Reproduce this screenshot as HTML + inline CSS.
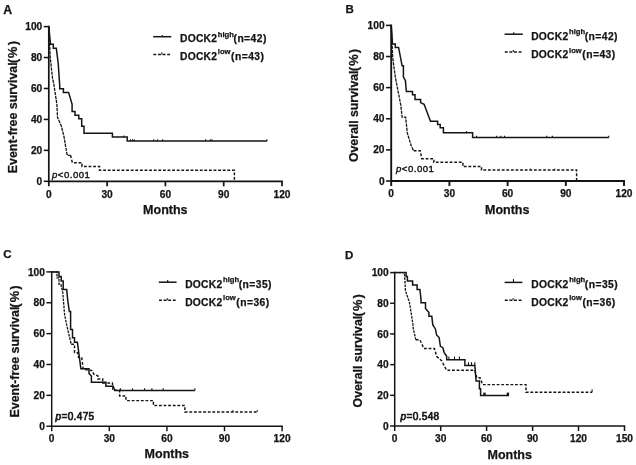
<!DOCTYPE html>
<html><head><meta charset="utf-8"><title>DOCK2 survival curves</title>
<style>
html,body{margin:0;padding:0;background:#fff;}
body{width:636px;height:465px;overflow:hidden;font-family:"Liberation Sans",sans-serif;}
svg{display:block;will-change:transform;}
svg text{font-family:"Liberation Sans",sans-serif;fill:#141414;}
.b{font-weight:bold;stroke:#141414;stroke-width:0.25px;}
.r{font-weight:normal}
</style></head><body>
<svg width="636" height="465" viewBox="0 0 636 465">
<rect width="636" height="465" fill="#ffffff"/>
<text x="3.3" y="13.9" class="b" font-size="12.3">A</text>
<path d="M48.8,26.6 V181.3 H282" fill="none" stroke="#141414" stroke-width="1.7" stroke-linecap="square"/>
<line x1="43.75" y1="181.30" x2="48.8" y2="181.30" stroke="#141414" stroke-width="1.55"/>
<text x="42.25" y="184.90" class="b" font-size="10.2" text-anchor="end">0</text>
<line x1="43.75" y1="150.36" x2="48.8" y2="150.36" stroke="#141414" stroke-width="1.55"/>
<text x="42.25" y="153.96" class="b" font-size="10.2" text-anchor="end">20</text>
<line x1="43.75" y1="119.42" x2="48.8" y2="119.42" stroke="#141414" stroke-width="1.55"/>
<text x="42.25" y="123.02" class="b" font-size="10.2" text-anchor="end">40</text>
<line x1="43.75" y1="88.48" x2="48.8" y2="88.48" stroke="#141414" stroke-width="1.55"/>
<text x="42.25" y="92.08" class="b" font-size="10.2" text-anchor="end">60</text>
<line x1="43.75" y1="57.54" x2="48.8" y2="57.54" stroke="#141414" stroke-width="1.55"/>
<text x="42.25" y="61.14" class="b" font-size="10.2" text-anchor="end">80</text>
<line x1="43.75" y1="26.60" x2="48.8" y2="26.60" stroke="#141414" stroke-width="1.55"/>
<text x="42.25" y="30.20" class="b" font-size="10.2" text-anchor="end">100</text>
<line x1="48.80" y1="181.3" x2="48.80" y2="186.3" stroke="#141414" stroke-width="1.7"/>
<text x="48.80" y="197.5" class="b" font-size="10.2" text-anchor="middle">0</text>
<line x1="107.10" y1="181.3" x2="107.10" y2="186.3" stroke="#141414" stroke-width="1.7"/>
<text x="107.10" y="197.5" class="b" font-size="10.2" text-anchor="middle">30</text>
<line x1="165.40" y1="181.3" x2="165.40" y2="186.3" stroke="#141414" stroke-width="1.7"/>
<text x="165.40" y="197.5" class="b" font-size="10.2" text-anchor="middle">60</text>
<line x1="223.70" y1="181.3" x2="223.70" y2="186.3" stroke="#141414" stroke-width="1.7"/>
<text x="223.70" y="197.5" class="b" font-size="10.2" text-anchor="middle">90</text>
<line x1="282.00" y1="181.3" x2="282.00" y2="186.3" stroke="#141414" stroke-width="1.7"/>
<text x="282.00" y="197.5" class="b" font-size="10.2" text-anchor="middle">120</text>
<text transform="translate(16.6,173.20000000000002) rotate(-90)" class="b" font-size="12.4">Event-free survival</text>
<text transform="translate(16.6,63.3) rotate(-90)" class="b" font-size="12.9" letter-spacing="1.1">(%)</text>
<text x="165.3" y="213.6" class="b" font-size="12.5" text-anchor="middle">Months</text>
<line x1="153.2" y1="36.7" x2="171.3" y2="36.7" stroke="#141414" stroke-width="1.5"/>
<line x1="162.25" y1="35.1" x2="162.25" y2="36.7" stroke="#141414" stroke-width="1.1"/>
<line x1="153.39999999999998" y1="54.5" x2="171.3" y2="54.5" stroke="#141414" stroke-width="1.5" stroke-dasharray="2.9 1.7"/>
<line x1="161.85" y1="52.5" x2="161.85" y2="54.5" stroke="#141414" stroke-width="1.1"/>
<text x="180.0" y="42.0" class="b" font-size="10.3" letter-spacing="0.24">DOCK2<tspan font-size="7.6" dy="-5.2" dx="0.6" letter-spacing="0">high</tspan></text>
<text x="233.5" y="42.0" class="b" font-size="10.3" letter-spacing="0.45">(n=42)</text>
<text x="180.0" y="59.6" class="b" font-size="10.3" letter-spacing="0.24">DOCK2<tspan font-size="7.6" dy="-5.2" dx="0.6" letter-spacing="0">low</tspan></text>
<text x="231.10000000000002" y="59.6" class="b" font-size="10.3" letter-spacing="0.45">(n=43)</text>
<text x="52.0" y="177.8" class="r" font-size="9.6" letter-spacing="0.5" stroke="#141414" stroke-width="0.4"><tspan font-style="italic">p</tspan>&lt;0.001</text>
<polyline points="48.8,26.6 50.2,56.8 52.4,77.4 54.0,85.2 56.9,104.4 57.5,117.3 61.4,126.3 64.0,136.6 65.9,148.2 67.2,155.3 70.5,155.3" fill="none" stroke="#141414" stroke-width="1.3" stroke-dasharray="3.2 0.9" stroke-linejoin="miter"/>
<polyline points="70.5,155.3 72.4,162.7 82.0,162.7 82.0,166.5 99.5,166.5 99.5,170.3 234.4,170.3 234.4,181.0" fill="none" stroke="#141414" stroke-width="1.45" stroke-dasharray="2.8 1.8" stroke-linejoin="miter"/>
<polyline points="48.8,26.6 50.5,44.3 53.3,44.3 53.3,48.3 56.3,48.3 58.2,63.2 59.7,85.2 59.7,88.8 63.4,88.8 63.4,92.4 68.6,92.4 72.1,104.4 72.1,111.5 75.0,111.5 75.0,115.3 78.8,115.3 78.8,118.8 81.7,118.8 81.7,126.3 84.0,126.3 84.0,133.3 112.4,133.3 112.4,137.1 127.2,137.1 127.2,141.0 267.0,141.0" fill="none" stroke="#141414" stroke-width="1.5" stroke-linejoin="miter"/>
<line x1="124" y1="135.39999999999998" x2="124" y2="137.1" stroke="#141414" stroke-width="1.1"/>
<line x1="130.5" y1="139.29999999999998" x2="130.5" y2="141" stroke="#141414" stroke-width="1.1"/>
<line x1="132.6" y1="139.29999999999998" x2="132.6" y2="141" stroke="#141414" stroke-width="1.1"/>
<line x1="134.3" y1="139.29999999999998" x2="134.3" y2="141" stroke="#141414" stroke-width="1.1"/>
<line x1="153.7" y1="139.29999999999998" x2="153.7" y2="141" stroke="#141414" stroke-width="1.1"/>
<line x1="157.5" y1="139.29999999999998" x2="157.5" y2="141" stroke="#141414" stroke-width="1.1"/>
<line x1="162.7" y1="139.29999999999998" x2="162.7" y2="141" stroke="#141414" stroke-width="1.1"/>
<line x1="205.6" y1="139.29999999999998" x2="205.6" y2="141" stroke="#141414" stroke-width="1.1"/>
<line x1="210.3" y1="139.29999999999998" x2="210.3" y2="141" stroke="#141414" stroke-width="1.1"/>
<line x1="212" y1="139.29999999999998" x2="212" y2="141" stroke="#141414" stroke-width="1.1"/>
<line x1="267" y1="139.29999999999998" x2="267" y2="141" stroke="#141414" stroke-width="1.1"/>
<text x="345.6" y="12.6" class="b" font-size="11.5">B</text>
<path d="M391.2,25.4 V181.0 H624" fill="none" stroke="#141414" stroke-width="1.9" stroke-linecap="square"/>
<line x1="386.05" y1="181.00" x2="391.2" y2="181.00" stroke="#141414" stroke-width="1.55"/>
<text x="384.55" y="184.60" class="b" font-size="10.2" text-anchor="end">0</text>
<line x1="386.05" y1="149.88" x2="391.2" y2="149.88" stroke="#141414" stroke-width="1.55"/>
<text x="384.55" y="153.48" class="b" font-size="10.2" text-anchor="end">20</text>
<line x1="386.05" y1="118.76" x2="391.2" y2="118.76" stroke="#141414" stroke-width="1.55"/>
<text x="384.55" y="122.36" class="b" font-size="10.2" text-anchor="end">40</text>
<line x1="386.05" y1="87.64" x2="391.2" y2="87.64" stroke="#141414" stroke-width="1.55"/>
<text x="384.55" y="91.24" class="b" font-size="10.2" text-anchor="end">60</text>
<line x1="386.05" y1="56.52" x2="391.2" y2="56.52" stroke="#141414" stroke-width="1.55"/>
<text x="384.55" y="60.12" class="b" font-size="10.2" text-anchor="end">80</text>
<line x1="386.05" y1="25.40" x2="391.2" y2="25.40" stroke="#141414" stroke-width="1.55"/>
<text x="384.55" y="29.00" class="b" font-size="10.2" text-anchor="end">100</text>
<line x1="391.20" y1="181.0" x2="391.20" y2="186.0" stroke="#141414" stroke-width="1.9"/>
<text x="391.20" y="197.0" class="b" font-size="10.2" text-anchor="middle">0</text>
<line x1="449.40" y1="181.0" x2="449.40" y2="186.0" stroke="#141414" stroke-width="1.9"/>
<text x="449.40" y="197.0" class="b" font-size="10.2" text-anchor="middle">30</text>
<line x1="507.60" y1="181.0" x2="507.60" y2="186.0" stroke="#141414" stroke-width="1.9"/>
<text x="507.60" y="197.0" class="b" font-size="10.2" text-anchor="middle">60</text>
<line x1="565.80" y1="181.0" x2="565.80" y2="186.0" stroke="#141414" stroke-width="1.9"/>
<text x="565.80" y="197.0" class="b" font-size="10.2" text-anchor="middle">90</text>
<line x1="624.00" y1="181.0" x2="624.00" y2="186.0" stroke="#141414" stroke-width="1.9"/>
<text x="624.00" y="197.0" class="b" font-size="10.2" text-anchor="middle">120</text>
<text transform="translate(358.1,162.1) rotate(-90)" class="b" font-size="12.3">Overall survival</text>
<text transform="translate(358.1,71.2) rotate(-90)" class="b" font-size="12.9" letter-spacing="1.1">(%)</text>
<text x="507.2" y="213.8" class="b" font-size="12.5" text-anchor="middle">Months</text>
<line x1="504.6" y1="34.2" x2="522.8" y2="34.2" stroke="#141414" stroke-width="1.5"/>
<line x1="513.7" y1="32.300000000000004" x2="513.7" y2="34.2" stroke="#141414" stroke-width="1.1"/>
<line x1="504.8" y1="52.0" x2="522.8" y2="52.0" stroke="#141414" stroke-width="1.5" stroke-dasharray="2.9 1.7"/>
<line x1="513.3000000000001" y1="50.0" x2="513.3000000000001" y2="52.0" stroke="#141414" stroke-width="1.1"/>
<text x="531.2" y="39.6" class="b" font-size="10.3" letter-spacing="0.24">DOCK2<tspan font-size="7.6" dy="-5.2" dx="0.6" letter-spacing="0">high</tspan></text>
<text x="584.7" y="39.6" class="b" font-size="10.3" letter-spacing="0.45">(n=42)</text>
<text x="531.2" y="57.8" class="b" font-size="10.3" letter-spacing="0.24">DOCK2<tspan font-size="7.6" dy="-5.2" dx="0.6" letter-spacing="0">low</tspan></text>
<text x="582.3000000000001" y="57.8" class="b" font-size="10.3" letter-spacing="0.45">(n=43)</text>
<text x="396.0" y="172.2" class="r" font-size="9.6" letter-spacing="0.5" stroke="#141414" stroke-width="0.4"><tspan font-style="italic">p</tspan>&lt;0.001</text>
<polyline points="391.2,25.4 392.7,57.4 395.3,76.8 397.0,85.8 400.8,105.2 402.1,117.2 405.6,117.2 407.3,132.9 411.2,145.8 413.7,150.8" fill="none" stroke="#141414" stroke-width="1.3" stroke-dasharray="3.2 0.9" stroke-linejoin="miter"/>
<polyline points="413.7,150.8 420.2,150.8 421.8,158.7 433.9,158.7 433.9,162.3 462.9,162.3 462.9,166.5 481.5,166.5 481.5,170.0 576.6,170.0 576.6,180.6" fill="none" stroke="#141414" stroke-width="1.45" stroke-dasharray="2.8 1.8" stroke-linejoin="miter"/>
<polyline points="391.2,25.4 392.5,43.9 395.3,43.9 395.3,47.4 398.6,47.4 402.1,65.8 403.4,65.8 403.4,76.8 405.4,80.6 406.4,91.6 412.5,91.6 412.5,94.8 415.0,94.8 415.0,99.4 420.6,99.4 420.6,102.6 424.1,104.2 430.5,121.3 437.6,121.3 437.6,124.5 440.2,124.5 440.2,127.7 443.4,127.7 443.4,132.8 472.6,132.8 472.6,137.4 608.8,137.4" fill="none" stroke="#141414" stroke-width="1.5" stroke-linejoin="miter"/>
<line x1="466.5" y1="131.1" x2="466.5" y2="132.8" stroke="#141414" stroke-width="1.1"/>
<line x1="476.6" y1="135.7" x2="476.6" y2="137.4" stroke="#141414" stroke-width="1.1"/>
<line x1="496.7" y1="135.7" x2="496.7" y2="137.4" stroke="#141414" stroke-width="1.1"/>
<line x1="500.8" y1="135.7" x2="500.8" y2="137.4" stroke="#141414" stroke-width="1.1"/>
<line x1="504.5" y1="135.7" x2="504.5" y2="137.4" stroke="#141414" stroke-width="1.1"/>
<line x1="546.7" y1="135.7" x2="546.7" y2="137.4" stroke="#141414" stroke-width="1.1"/>
<line x1="552.4" y1="135.7" x2="552.4" y2="137.4" stroke="#141414" stroke-width="1.1"/>
<line x1="608.8" y1="135.7" x2="608.8" y2="137.4" stroke="#141414" stroke-width="1.1"/>
<line x1="530.3" y1="168.6" x2="530.3" y2="170" stroke="#141414" stroke-width="1"/>
<line x1="554.8" y1="168.6" x2="554.8" y2="170" stroke="#141414" stroke-width="1"/>
<text x="3.2" y="257.8" class="b" font-size="11.5">C</text>
<path d="M51.7,271.9 V426.2 H282.1" fill="none" stroke="#141414" stroke-width="1.45" stroke-linecap="square"/>
<line x1="46.38" y1="426.20" x2="51.7" y2="426.20" stroke="#141414" stroke-width="1.45"/>
<text x="44.88" y="429.80" class="b" font-size="10.2" text-anchor="end">0</text>
<line x1="46.38" y1="395.34" x2="51.7" y2="395.34" stroke="#141414" stroke-width="1.45"/>
<text x="44.88" y="398.94" class="b" font-size="10.2" text-anchor="end">20</text>
<line x1="46.38" y1="364.48" x2="51.7" y2="364.48" stroke="#141414" stroke-width="1.45"/>
<text x="44.88" y="368.08" class="b" font-size="10.2" text-anchor="end">40</text>
<line x1="46.38" y1="333.62" x2="51.7" y2="333.62" stroke="#141414" stroke-width="1.45"/>
<text x="44.88" y="337.22" class="b" font-size="10.2" text-anchor="end">60</text>
<line x1="46.38" y1="302.76" x2="51.7" y2="302.76" stroke="#141414" stroke-width="1.45"/>
<text x="44.88" y="306.36" class="b" font-size="10.2" text-anchor="end">80</text>
<line x1="46.38" y1="271.90" x2="51.7" y2="271.90" stroke="#141414" stroke-width="1.45"/>
<text x="44.88" y="275.50" class="b" font-size="10.2" text-anchor="end">100</text>
<line x1="51.70" y1="426.2" x2="51.70" y2="431.2" stroke="#141414" stroke-width="1.45"/>
<text x="51.70" y="441.9" class="b" font-size="10.2" text-anchor="middle">0</text>
<line x1="109.30" y1="426.2" x2="109.30" y2="431.2" stroke="#141414" stroke-width="1.45"/>
<text x="109.30" y="441.9" class="b" font-size="10.2" text-anchor="middle">30</text>
<line x1="166.90" y1="426.2" x2="166.90" y2="431.2" stroke="#141414" stroke-width="1.45"/>
<text x="166.90" y="441.9" class="b" font-size="10.2" text-anchor="middle">60</text>
<line x1="224.50" y1="426.2" x2="224.50" y2="431.2" stroke="#141414" stroke-width="1.45"/>
<text x="224.50" y="441.9" class="b" font-size="10.2" text-anchor="middle">90</text>
<line x1="282.10" y1="426.2" x2="282.10" y2="431.2" stroke="#141414" stroke-width="1.45"/>
<text x="282.10" y="441.9" class="b" font-size="10.2" text-anchor="middle">120</text>
<text transform="translate(19.0,417.5) rotate(-90)" class="b" font-size="12.4">Event-free survival</text>
<text transform="translate(19.0,307.7) rotate(-90)" class="b" font-size="12.9" letter-spacing="1.1">(%)</text>
<text x="166.8" y="458.4" class="b" font-size="12.5" text-anchor="middle">Months</text>
<line x1="158.8" y1="282.2" x2="176.6" y2="282.2" stroke="#141414" stroke-width="1.5"/>
<line x1="167.7" y1="280.0" x2="167.7" y2="282.2" stroke="#141414" stroke-width="1.1"/>
<line x1="159.0" y1="300.2" x2="176.6" y2="300.2" stroke="#141414" stroke-width="1.5" stroke-dasharray="2.9 1.7"/>
<line x1="167.29999999999998" y1="298.2" x2="167.29999999999998" y2="300.2" stroke="#141414" stroke-width="1.1"/>
<text x="185.2" y="287.5" class="b" font-size="10.3" letter-spacing="0.24">DOCK2<tspan font-size="7.6" dy="-5.2" dx="0.6" letter-spacing="0">high</tspan></text>
<text x="238.7" y="287.5" class="b" font-size="10.3" letter-spacing="0.45">(n=35)</text>
<text x="185.2" y="305.6" class="b" font-size="10.3" letter-spacing="0.24">DOCK2<tspan font-size="7.6" dy="-5.2" dx="0.6" letter-spacing="0">low</tspan></text>
<text x="236.3" y="305.6" class="b" font-size="10.3" letter-spacing="0.45">(n=36)</text>
<text x="55.5" y="420.1" class="r" font-size="10.1" letter-spacing="0.32" stroke="#141414" stroke-width="0.65"><tspan font-style="italic">p</tspan>=0.475</text>
<polyline points="51.7,271.9 57.0,271.9 57.0,277.9 59.0,277.9 59.0,284.4 60.9,284.4 62.8,292.7 63.7,303.7 64.5,314.0 66.7,325.0 68.0,330.6 71.2,344.2" fill="none" stroke="#141414" stroke-width="1.3" stroke-dasharray="2.6 1.0" stroke-linejoin="miter"/>
<polyline points="71.2,344.2 74.5,344.2 74.5,352.6 77.7,352.6 78.5,357.3 81.7,357.3 83.3,369.4 92.2,370.6 93.8,374.2 97.8,375.8 97.8,379.0 102.7,379.0 102.7,383.0 112.4,383.0 113.0,390.3 119.6,390.3 119.6,396.0 126.0,396.0 126.0,400.6 153.4,400.6 153.4,405.5 184.9,405.5 184.9,411.9 257.2,411.9" fill="none" stroke="#141414" stroke-width="1.45" stroke-dasharray="2.8 1.8" stroke-linejoin="miter"/>
<polyline points="51.7,271.9 59.0,271.9 59.0,276.6 61.2,276.6 61.2,281.1 63.2,281.1 63.2,289.5 66.7,289.5 67.6,299.2 69.3,311.5 70.6,311.5 70.6,329.4 72.5,329.4 72.5,337.7 74.5,337.7 74.5,342.3 77.4,342.3 80.9,368.8 89.0,368.8 89.0,373.5 91.4,376.0 91.4,382.3 105.9,382.3 105.9,386.3 113.2,386.3 114.8,390.5 194.9,390.5" fill="none" stroke="#141414" stroke-width="1.5" stroke-linejoin="miter"/>
<line x1="120.4" y1="388.3" x2="120.4" y2="390.5" stroke="#141414" stroke-width="1.1"/>
<line x1="132.5" y1="388.3" x2="132.5" y2="390.5" stroke="#141414" stroke-width="1.1"/>
<line x1="144.6" y1="388.3" x2="144.6" y2="390.5" stroke="#141414" stroke-width="1.1"/>
<line x1="151.9" y1="388.3" x2="151.9" y2="390.5" stroke="#141414" stroke-width="1.1"/>
<line x1="163.2" y1="388.3" x2="163.2" y2="390.5" stroke="#141414" stroke-width="1.1"/>
<line x1="194.9" y1="388.3" x2="194.9" y2="390.5" stroke="#141414" stroke-width="1.1"/>
<line x1="233" y1="410.0" x2="233" y2="411.9" stroke="#141414" stroke-width="1"/>
<line x1="257.2" y1="410.0" x2="257.2" y2="411.9" stroke="#141414" stroke-width="1"/>
<text x="345" y="258.7" class="b" font-size="11.5">D</text>
<path d="M394.7,272.6 V426.0 H624.5" fill="none" stroke="#141414" stroke-width="1.5" stroke-linecap="square"/>
<line x1="390.15" y1="426.00" x2="394.7" y2="426.00" stroke="#141414" stroke-width="1.5"/>
<text x="388.65" y="429.60" class="b" font-size="10.2" text-anchor="end">0</text>
<line x1="390.15" y1="395.32" x2="394.7" y2="395.32" stroke="#141414" stroke-width="1.5"/>
<text x="388.65" y="398.92" class="b" font-size="10.2" text-anchor="end">20</text>
<line x1="390.15" y1="364.64" x2="394.7" y2="364.64" stroke="#141414" stroke-width="1.5"/>
<text x="388.65" y="368.24" class="b" font-size="10.2" text-anchor="end">40</text>
<line x1="390.15" y1="333.96" x2="394.7" y2="333.96" stroke="#141414" stroke-width="1.5"/>
<text x="388.65" y="337.56" class="b" font-size="10.2" text-anchor="end">60</text>
<line x1="390.15" y1="303.28" x2="394.7" y2="303.28" stroke="#141414" stroke-width="1.5"/>
<text x="388.65" y="306.88" class="b" font-size="10.2" text-anchor="end">80</text>
<line x1="390.15" y1="272.60" x2="394.7" y2="272.60" stroke="#141414" stroke-width="1.5"/>
<text x="388.65" y="276.20" class="b" font-size="10.2" text-anchor="end">100</text>
<line x1="394.70" y1="426.0" x2="394.70" y2="431.0" stroke="#141414" stroke-width="1.5"/>
<text x="394.70" y="442.0" class="b" font-size="10.2" text-anchor="middle">0</text>
<line x1="440.70" y1="426.0" x2="440.70" y2="431.0" stroke="#141414" stroke-width="1.5"/>
<text x="440.70" y="442.0" class="b" font-size="10.2" text-anchor="middle">30</text>
<line x1="486.60" y1="426.0" x2="486.60" y2="431.0" stroke="#141414" stroke-width="1.5"/>
<text x="486.60" y="442.0" class="b" font-size="10.2" text-anchor="middle">60</text>
<line x1="532.60" y1="426.0" x2="532.60" y2="431.0" stroke="#141414" stroke-width="1.5"/>
<text x="532.60" y="442.0" class="b" font-size="10.2" text-anchor="middle">90</text>
<line x1="578.50" y1="426.0" x2="578.50" y2="431.0" stroke="#141414" stroke-width="1.5"/>
<text x="578.50" y="442.0" class="b" font-size="10.2" text-anchor="middle">120</text>
<line x1="624.50" y1="426.0" x2="624.50" y2="431.0" stroke="#141414" stroke-width="1.5"/>
<text x="624.50" y="442.0" class="b" font-size="10.2" text-anchor="middle">150</text>
<text transform="translate(362.3,407.4) rotate(-90)" class="b" font-size="12.3">Overall survival</text>
<text transform="translate(362.3,316.4) rotate(-90)" class="b" font-size="12.9" letter-spacing="1.1">(%)</text>
<text x="509.7" y="459.0" class="b" font-size="12.5" text-anchor="middle">Months</text>
<line x1="504.6" y1="282.4" x2="522.4" y2="282.4" stroke="#141414" stroke-width="1.5"/>
<line x1="513.5" y1="279.09999999999997" x2="513.5" y2="282.4" stroke="#141414" stroke-width="1.1"/>
<line x1="504.8" y1="300.2" x2="522.4" y2="300.2" stroke="#141414" stroke-width="1.5" stroke-dasharray="2.9 1.7"/>
<line x1="513.1" y1="298.2" x2="513.1" y2="300.2" stroke="#141414" stroke-width="1.1"/>
<text x="531.3000000000001" y="287.5" class="b" font-size="10.3" letter-spacing="0.24">DOCK2<tspan font-size="7.6" dy="-5.2" dx="0.6" letter-spacing="0">high</tspan></text>
<text x="584.8000000000001" y="287.5" class="b" font-size="10.3" letter-spacing="0.45">(n=35)</text>
<text x="531.3000000000001" y="305.6" class="b" font-size="10.3" letter-spacing="0.24">DOCK2<tspan font-size="7.6" dy="-5.2" dx="0.6" letter-spacing="0">low</tspan></text>
<text x="582.4000000000001" y="305.6" class="b" font-size="10.3" letter-spacing="0.45">(n=36)</text>
<text x="400.5" y="419.9" class="r" font-size="10.1" letter-spacing="0.32" stroke="#141414" stroke-width="0.65"><tspan font-style="italic">p</tspan>=0.548</text>
<polyline points="394.7,272.6 404.4,272.6 405.5,290.8 409.4,302.4 412.6,321.8 413.4,329.2 415.8,339.7" fill="none" stroke="#141414" stroke-width="1.3" stroke-dasharray="2.6 1.0" stroke-linejoin="miter"/>
<polyline points="415.8,339.7 419.8,339.7 423.9,348.5 434.4,348.5 436.8,356.6 441.6,360.6 446.5,370.2 474.8,370.2 476.8,377.7 480.0,377.7 482.6,384.6 526.0,384.6 526.0,392.3 592.1,392.3" fill="none" stroke="#141414" stroke-width="1.45" stroke-dasharray="2.8 1.8" stroke-linejoin="miter"/>
<polyline points="394.7,272.6 406.1,272.6 406.1,276.6 407.4,276.6 407.4,281.1 412.6,281.1 412.6,285.0 417.1,285.0 417.1,289.5 419.9,289.5 421.0,299.2 421.0,302.7 425.5,302.7 425.5,308.5 428.9,312.5 428.9,316.3 431.8,316.3 432.8,324.9 435.3,328.7 436.6,335.0 439.1,337.5 440.4,346.3 442.9,347.7 444.2,352.6 446.7,356.3 446.7,359.8 464.9,359.8 464.9,365.5 474.8,365.5 476.1,381.0 479.4,381.0 479.4,388.7 480.6,388.7 480.6,395.4 509.0,395.4" fill="none" stroke="#141414" stroke-width="1.5" stroke-linejoin="miter"/>
<line x1="448.9" y1="356.5" x2="448.9" y2="359.8" stroke="#141414" stroke-width="1.1"/>
<line x1="454.5" y1="356.5" x2="454.5" y2="359.8" stroke="#141414" stroke-width="1.1"/>
<line x1="459.4" y1="356.5" x2="459.4" y2="359.8" stroke="#141414" stroke-width="1.1"/>
<line x1="468.5" y1="362.2" x2="468.5" y2="365.5" stroke="#141414" stroke-width="1.1"/>
<line x1="471.5" y1="362.2" x2="471.5" y2="365.5" stroke="#141414" stroke-width="1.1"/>
<line x1="474.8" y1="362.2" x2="474.8" y2="365.5" stroke="#141414" stroke-width="1.1"/>
<line x1="592.1" y1="389.3" x2="592.1" y2="392.3" stroke="#141414" stroke-width="1"/>
<rect x="483.3" y="392.59999999999997" width="2.4" height="3.4" fill="#141414"/>
<rect x="506.7" y="392.59999999999997" width="2.4" height="3.4" fill="#141414"/>
</svg>
</body></html>
